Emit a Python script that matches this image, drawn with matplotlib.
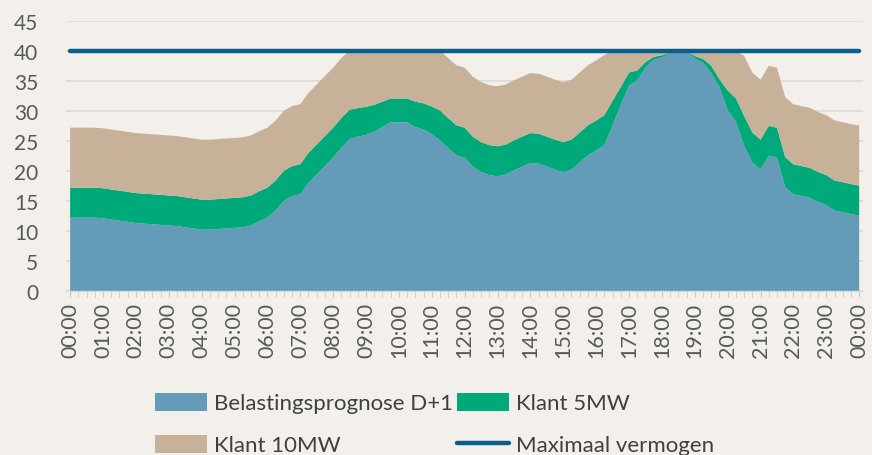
import numpy as np
import matplotlib.pyplot as plt
from matplotlib.ticker import MultipleLocator

plt.rcParams['font.family'] = ['Lato', 'DejaVu Sans']

# kwartierwaarden, 00:00 t/m 00:00 volgende dag (97 punten)
belasting = [12.2, 12.2, 12.2, 12.2, 12.1, 11.9, 11.7, 11.5, 11.3, 11.2, 11.1, 11.0,
             10.9, 10.8, 10.6, 10.4, 10.2, 10.2, 10.3, 10.4, 10.5, 10.6, 10.9, 11.6,
             12.2, 13.4, 15.0, 15.8, 16.1, 18.0, 19.4, 20.8, 22.2, 23.8, 25.3, 25.7,
             26.0, 26.5, 27.3, 28.1, 28.1, 28.1, 27.3, 26.9, 26.1, 25.1, 23.8, 22.6,
             22.2, 20.7, 19.8, 19.3, 19.1, 19.4, 20.1, 20.7, 21.3, 21.2, 20.7, 20.2,
             19.8, 20.2, 21.4, 22.6, 23.4, 24.3, 27.5, 31.0, 34.2, 35.1, 37.2, 38.5,
             38.9, 39.6, 40.0, 40.0, 38.7, 38.0, 36.3, 34.0, 30.1, 28.2, 24.2, 21.4,
             20.2, 22.5, 22.2, 17.3, 16.1, 15.8, 15.5, 14.8, 14.3, 13.4, 13.1, 12.8, 12.55]

klant_5mw = [5.0] * 34 + [4.9, 4.77, 4.67, 4.5, 4.23, 3.97, 3.97, 3.97, 4.23, 4.37, 4.63, 4.97] \
    + [5.0] * 20 + [4.17, 3.0, 2.2, 1.63, 0.93, 0.5, 0.37, 0.13, 0.0, 0.0, 0.43, 0.67,
                    1.23, 1.3, 3.3, 3.9] + [5.0] * 15

klant_10mw = [10.0] * 34 + [9.8, 9.53, 9.33, 9.0, 8.47, 7.93, 7.93, 7.93, 8.47, 8.73, 9.27, 9.93] \
    + [10.0] * 20 + [8.33, 6.0, 3.6, 3.27, 1.87, 1.0, 0.73, 0.27, 0.0, 0.0, 0.87, 1.33,
                     2.47, 4.7, 6.6, 7.9] + [10.0] * 15

max_vermogen = 40
uren = ['%02d:00' % (h % 24) for h in range(25)]

x = np.arange(len(belasting))
bg = '#F3F0EB'

fig = plt.figure(figsize=(8.72, 4.56), dpi=100, facecolor=bg)
ax = fig.add_axes([0.0757, 0.360, 0.9143, 0.592], facecolor=bg)

ax.stackplot(x, belasting, klant_5mw, klant_10mw,
             colors=['#649BB9', '#00A979', '#C7B299'], linewidth=0,
             labels=['Belastingsprognose D+1', 'Klant 5MW', 'Klant 10MW'], zorder=2)
ax.plot(x, [max_vermogen] * len(x), color='#0B5E8B', lw=3.2,
        solid_capstyle='round', label='Maximaal vermogen', zorder=3)

ax.set_xlim(-0.5, 96.5)
ax.set_ylim(0, 45)
ax.set_yticks(range(0, 46, 5))
ax.grid(axis='y', color='#D9D9D9', lw=1.1, zorder=1)
ax.set_xticks(x[::4])
ax.set_xticklabels(uren, rotation=90, fontsize=15.5, color='#595959')
ax.xaxis.set_minor_locator(MultipleLocator(1))
ax.tick_params(axis='x', which='both', length=4, color='#C8C8C8', pad=4)
ax.tick_params(axis='y', length=0, labelsize=15, labelcolor='#595959', pad=20)
for s in ['top', 'right', 'left']:
    ax.spines[s].set_visible(False)
ax.spines['bottom'].set_color('#D9D9D9')

# legenda per rij: volgorde zo dat kolomvulling rijen geeft zoals in Excel
h, l = ax.get_legend_handles_labels()
order = [0, 2, 1, 3]
fig.legend([h[i] for i in order], [l[i] for i in order], ncol=2,
           loc='upper left', bbox_to_anchor=(0.178, 0.137),
           frameon=False, fontsize=16, labelcolor='#404040',
           handlelength=2.35, handleheight=0.9, handletextpad=0.28,
           columnspacing=0.2, labelspacing=0.95, borderaxespad=0, borderpad=0)

fig.savefig('out.png', dpi=100, facecolor=bg)
